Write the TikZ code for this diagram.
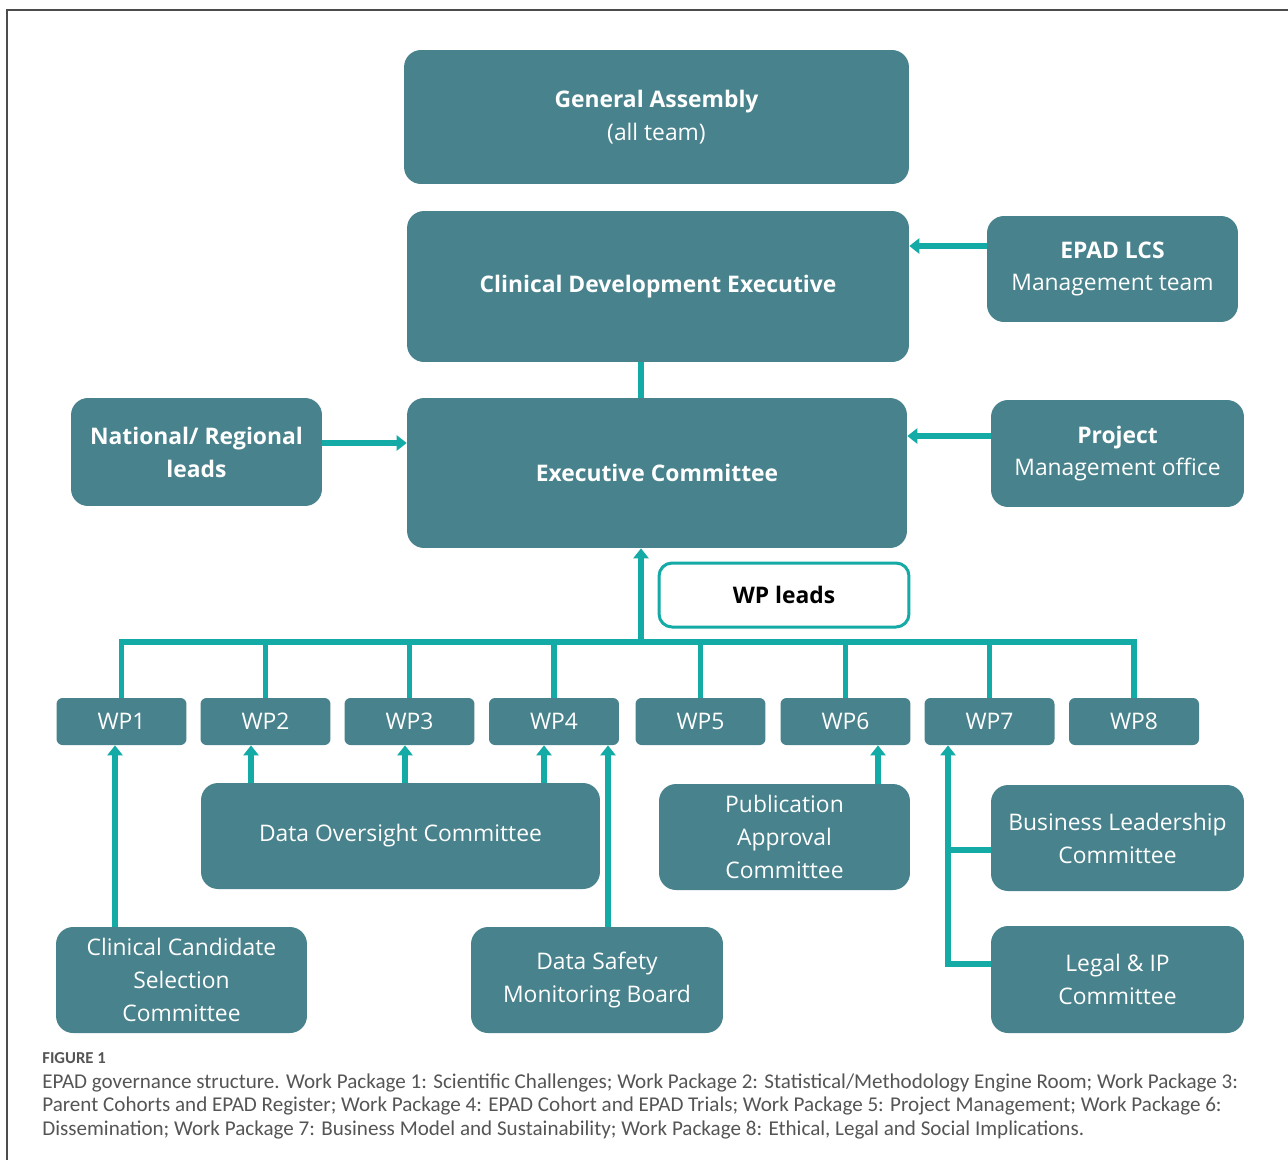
\documentclass[tikz,border=0pt]{standalone}
\usepackage{fontspec}
\setmainfont{Open Sans}
\newfontfamily\capfont{Carlito}
\usetikzlibrary{positioning}
\usetikzlibrary{arrows.meta}
\definecolor{boxteal}{RGB}{72,130,140}
\definecolor{linkteal}{RGB}{20,170,165}
\definecolor{capgray}{RGB}{85,85,85}
\tikzset{
  box/.style={rectangle,rounded corners=0.34cm,fill=boxteal,text=white,align=center,inner sep=0pt,font=\fontsize{13}{18.7}\selectfont},
  wpbox/.style={box,rounded corners=0.12cm,minimum width=2.6cm,minimum height=0.94cm},
  link/.style={draw=linkteal,line width=0.11cm},
  tip/.style={link,-{Triangle[length=0.2cm,width=0.3cm]}},
}

\begin{document}
\begin{tikzpicture}[x=0.02cm,y=-0.02cm]
\useasboundingbox (0,0) rectangle (1288,1160);
\draw[black!70,line width=0.04cm] (7,1160) -- (7,10) -- (1288,10);

\node[box,minimum width=10.1cm,minimum height=2.68cm] (ga) at (656.5,117) {\textbf{General Assembly}\\(all team)};
\node[box,minimum width=10.04cm,minimum height=3.02cm] (cde) at (658,286.5) {\textbf{Clinical Development Executive}};
\node[box,minimum width=5.02cm,minimum height=2.12cm] (lcs) at (1112.5,269) {\textbf{EPAD LCS}\\Management team};
\node[box,minimum width=5.02cm,minimum height=2.16cm] (nrl) at (196.5,452) {\textbf{National/ Regional}\\\textbf{leads}};
\node[box,minimum width=10cm,minimum height=3cm] (exec) at (657,473) {\textbf{Executive Committee}};
\node[box,minimum width=5.06cm,minimum height=2.14cm] (pmo) at (1117.5,453.5) {\textbf{Project}\\Management office};
\node[box,fill=white,draw=linkteal,line width=0.06cm,rounded corners=0.26cm,text=black,minimum width=5cm,minimum height=1.28cm] (wpl) at (784,595) {\textbf{WP leads}};

\foreach \i/\x in {1/121.5,2/265.5,3/409.5,4/554,5/700.5,6/845.5,7/989.5,8/1134}
  \node[wpbox] (wp\i) at (\x,721.5) {WP\i};

\node[box,minimum width=7.98cm,minimum height=2.12cm] (doc) at (400.5,836) {Data Oversight Committee};
\node[box,minimum width=5.04cm,minimum height=2.12cm] (dsmb) at (597,980) {Data Safety\\Monitoring Board};
\node[box,minimum width=5.02cm,minimum height=2.12cm] (ccsc) at (181.5,980) {Clinical Candidate\\Selection\\Committee};
\node[box,minimum width=5.02cm,minimum height=2.12cm] (pac) at (784.5,837) {Publication\\Approval\\Committee};
\node[box,minimum width=5.06cm,minimum height=2.12cm] (blc) at (1117.5,838) {Business Leadership\\Committee};
\node[box,minimum width=5.06cm,minimum height=2.14cm] (lip) at (1117.5,979.5) {Legal \& IP\\Committee};

\coordinate (lcsout) at ([yshift=0.46cm]lcs.west);
\draw[tip] (lcsout) -- (lcsout -| cde.east);
\coordinate (nrlout) at ([yshift=0.18cm]nrl.east);
\draw[tip] (nrlout) -- (nrlout -| exec.west);
\coordinate (pmoout) at ([yshift=0.35cm]pmo.west);
\draw[tip] (pmoout) -- (pmoout -| exec.east);

\coordinate (hub) at (641,642);
\draw[link] (cde.south -| hub) -- (exec.north -| hub);
\draw[tip] (hub) -- (hub |- exec.south);
\draw[link] (wp1.north) -- (wp1.north |- hub) -- (wp8.north |- hub) -- (wp8.north);
\foreach \i in {2,...,7}
  \draw[link] (wp\i.north |- hub) -- (wp\i.north);

\foreach \w/\s in {2/-0.29cm,3/-0.09cm,4/-0.2cm}{
  \coordinate (in\w) at ([xshift=\s]wp\w.south);
  \draw[tip] (in\w |- doc.north) -- (in\w);
}
\coordinate (in4b) at ([xshift=1.08cm]wp4.south);
\draw[tip] (in4b |- dsmb.north) -- (in4b);
\coordinate (in1) at ([xshift=-0.13cm]wp1.south);
\draw[tip] (in1 |- ccsc.north) -- (in1);
\coordinate (in6) at ([xshift=0.65cm]wp6.south);
\draw[tip] (in6 |- pac.north) -- (in6);
\coordinate (in7) at ([xshift=-0.83cm]wp7.south);
\coordinate (lipin) at ([yshift=0.31cm]lip.west);
\coordinate (blcin) at ([yshift=-0.24cm]blc.west);
\draw[tip] (lipin) -- (lipin -| in7) -- (in7);
\draw[link] (blcin -| in7) -- (blcin);

\node[anchor=west,text=capgray,font=\capfont\bfseries\fontsize{9.5}{11}\selectfont,inner sep=0pt] (fig) at (42,1058) {FIGURE 1};
\node[anchor=north west,align=left,text=capgray,font=\capfont\fontsize{12}{13.6}\selectfont,inner sep=0pt] (cap) at (42,1073) {EPAD governance structure. Work Package 1: Scientific Challenges; Work Package 2: Statistical/Methodology Engine Room; Work Package 3:\\Parent Cohorts and EPAD Register; Work Package 4: EPAD Cohort and EPAD Trials; Work Package 5: Project Management; Work Package 6:\\Dissemination; Work Package 7: Business Model and Sustainability; Work Package 8: Ethical, Legal and Social Implications.};
\end{tikzpicture}
\end{document}
